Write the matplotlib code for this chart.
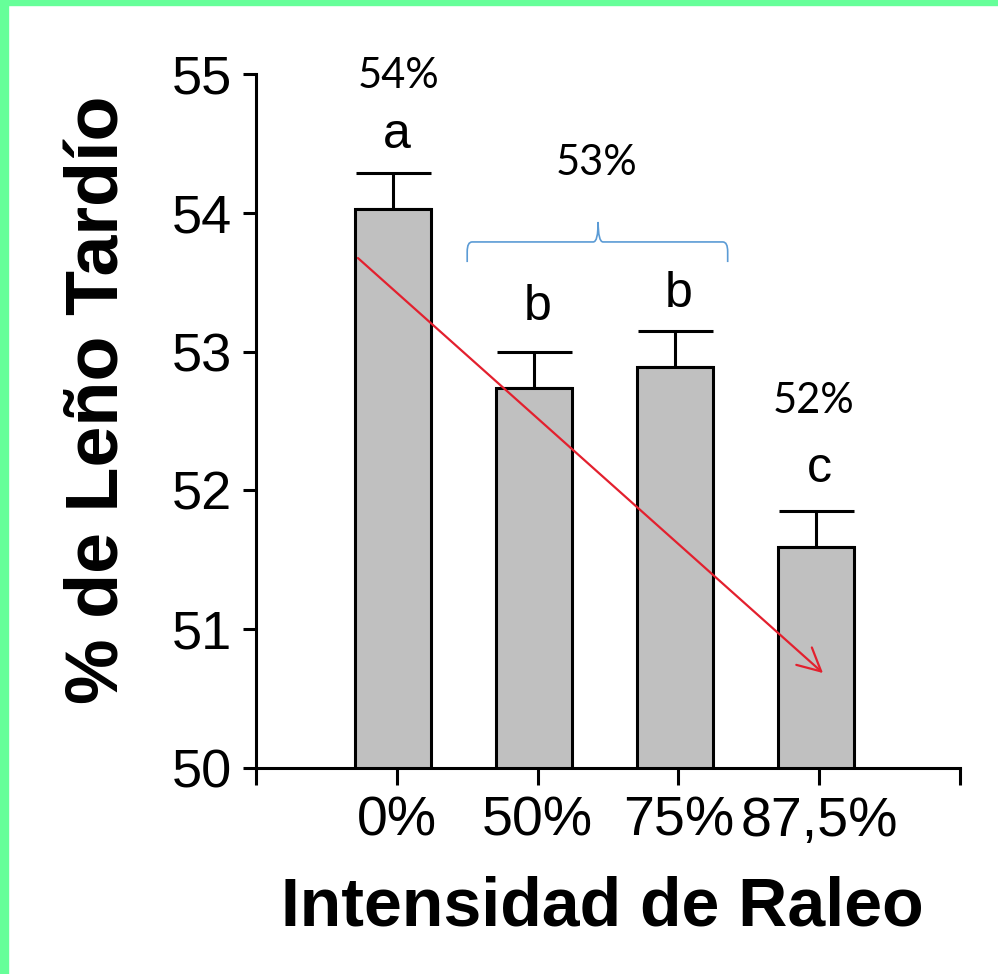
import matplotlib
matplotlib.use("Agg")
import matplotlib.pyplot as plt
from matplotlib.patches import Rectangle, PathPatch
from matplotlib.path import Path

categories = ["0%", "50%", "75%", "87,5%"]
values = [54.03, 52.74, 52.89, 51.59]
errors = [0.26, 0.26, 0.26, 0.26]
letters = ["a", "b", "b", "c"]
yticks = [50, 51, 52, 53, 54, 55]

plt.rcParams["font.family"] = ["Liberation Sans", "DejaVu Sans"]

fig = plt.figure(figsize=(9.98, 9.74), dpi=100)
W, H = 998, 974
ax = fig.add_axes([256 / W, 1 - 768 / H, (960 - 256) / W, (768 - 74) / H])

x = list(range(len(categories)))
xb = [xi - 0.025 for xi in x]
ax.bar(xb, values, width=0.54, bottom=0, color="#C0C0C0", edgecolor="black",
       linewidth=2.2, zorder=2)
ax.errorbar(xb, values, yerr=[[0] * len(errors), errors], fmt="none",
            ecolor="black", elinewidth=2.2, capsize=27, capthick=2.2, zorder=1)

ax.set_xlim(-1, 4)
ax.set_ylim(50, 55)
ax.set_yticks(yticks)
ax.set_yticklabels([str(v) for v in yticks], fontsize=39)
ax.set_xticks([-1] + x + [4])
ax.set_xticklabels([""] + categories + [""], fontsize=40)
ax.spines["top"].set_visible(False)
ax.spines["right"].set_visible(False)
for s in ("left", "bottom"):
    ax.spines[s].set_linewidth(2.2)
ax.tick_params(axis="y", length=9.5, width=2.2, pad=8, direction="out")
ax.tick_params(axis="x", length=12, width=2.2, pad=8, direction="out")

# significance letters
letter_y = [54.47, 53.23, 53.32, 52.06]
for xi, lt, ly in zip(x, letters, letter_y):
    ax.text(xi, ly, lt, ha="center", va="baseline", fontsize=36)

# group percentages
ax.text(0.01, 54.90, "54%", ha="center", va="baseline", fontsize=30, family="Lato")
ax.text(1.42, 54.27, "53%", ha="center", va="baseline", fontsize=30, family="Lato")
ax.text(2.96, 52.56, "52%", ha="center", va="baseline", fontsize=30, family="Lato")

# brace over 50% and 75%
bx0, bx1, bm = 0.50, 2.35, 1.43
yb, yl, yp = 53.645, 53.79, 53.934
dx, dy = 0.035, 0.07
verts = [(bx0, yb), (bx0, yl - dy), (bx0, yl), (bx0 + dx, yl),
         (bm - dx, yl), (bm, yl), (bm, yp),
         (bm, yl), (bm + dx, yl),
         (bx1 - dx, yl), (bx1, yl), (bx1, yl - dy), (bx1, yb)]
codes = [Path.MOVETO, Path.LINETO, Path.CURVE3, Path.CURVE3,
         Path.LINETO, Path.CURVE3, Path.CURVE3,
         Path.CURVE3, Path.CURVE3,
         Path.LINETO, Path.CURVE3, Path.CURVE3, Path.LINETO]
ax.add_patch(PathPatch(Path(verts, codes), fill=False, edgecolor="#5B9BD5",
                       linewidth=1.2, clip_on=False, zorder=3))

# trend arrow
ax.annotate("", xy=(3.027, 50.684), xytext=(-0.276, 53.674),
            arrowprops=dict(arrowstyle="->,head_length=0.55,head_width=0.28",
                            color="#E3202E", linewidth=1.6, mutation_scale=30,
                            shrinkA=0, shrinkB=0), zorder=4)

# axis titles
fig.text(0.604, 1 - 925 / H, "Intensidad de Raleo", ha="center", va="baseline",
         fontsize=49, fontweight="bold")
fig.text(99 / W, 1 - 400 / H, "% de Leño Tardío", ha="center", va="center",
         rotation=90, fontsize=53, fontweight="bold")

# green frame edges
fig.patches.append(Rectangle((0, 0), 8 / W, 1, transform=fig.transFigure,
                             color="#66FF99", zorder=10))
fig.patches.append(Rectangle((0, 1 - 5 / H), 1, 5 / H, transform=fig.transFigure,
                             color="#66FF99", zorder=10))

fig.savefig("out.png", dpi=100)
